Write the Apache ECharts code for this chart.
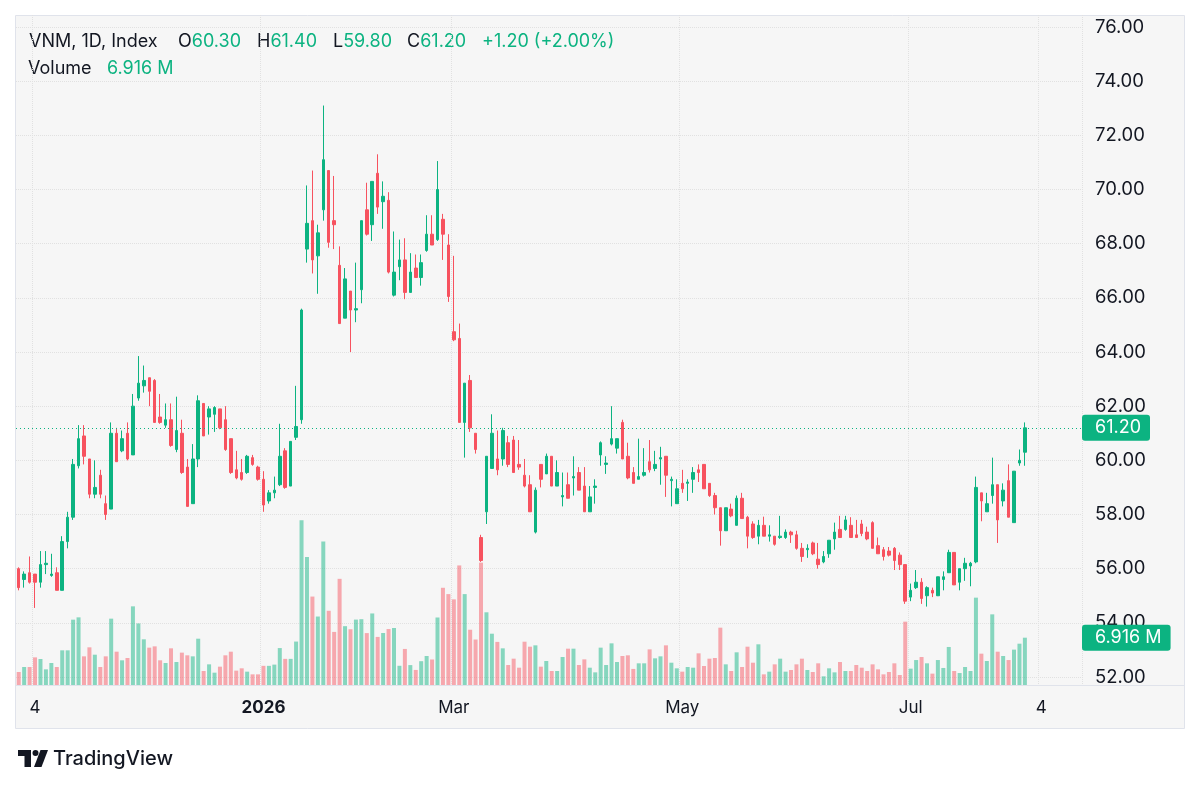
<!DOCTYPE html>
<html>
<head>
<meta charset="utf-8">
<title>VNM, 1D</title>
<script src="https://cdn.jsdelivr.net/npm/echarts@6.0.0/dist/echarts.min.js"></script>
<style>
    html, body { margin: 0; padding: 0; background: #fff; }
    #chart { width: 1200px; height: 786px; }
</style>
</head>
<body>
<div id="chart"></div>
<script>
// trading calendar: weekdays from the first bar, minus exchange holidays
var startDate = '2025-10-30';
var barCount = 196; // includes empty slots to the right of the last bar
var holidays = ['2026-01-01', '2026-02-13', '2026-02-16', '2026-02-17', '2026-02-18',
    '2026-02-19', '2026-02-20', '2026-04-27', '2026-04-30', '2026-05-01'];
var axisMarks = {
    '2025-11-04': '4', '2026-01-02': '2026', '2026-03-02': 'Mar',
    '2026-05-04': 'May', '2026-07-01': 'Jul', '2026-08-04': '4'
};
var priceTicks = { min: 52, max: 76, step: 2 };

var opens = [56.0, 55.6, 55.85, 55.8, 55.5, 56.15, 55.75, 55.85, 55.2, 57.0,
    57.9, 59.8, 60.9, 60.05, 58.75, 59.45, 58.4, 58.2, 61.0, 60.35,
    61.0, 60.2, 62.3, 62.75, 63.05, 62.95, 61.6, 61.3, 61.5, 60.4,
    61.0, 59.75, 58.4, 60.05, 62.1, 61.6, 61.7, 61.9, 61.5, 60.8,
    59.65, 59.55, 59.55, 60.1, 59.75, 59.3, 58.5, 58.8, 59.1, 60.35,
    59.05, 60.85, 61.5, 67.8, 68.85, 67.55, 69.25, 70.7, 68.85, 67.2,
    65.25, 66.25, 65.55, 66.3, 69.25, 68.7, 70.6, 69.55, 69.6, 66.1,
    67.15, 67.4, 66.2, 67.1, 66.75, 67.75, 68.35, 68.15, 68.9, 67.95,
    64.75, 64.5, 61.4, 62.95, 61.0, 57.15, 58.1, 59.7, 60.05, 60.05,
    60.65, 60.75, 59.85, 59.45, 59.1, 57.35, 59.85, 59.5, 60.15, 59.05,
    58.65, 59.1, 59.35, 59.55, 59.05, 58.1, 59.0, 60.2, 59.85, 60.6,
    60.45, 61.4, 60.15, 59.55, 59.3, 59.45, 59.95, 59.7, 60.05, 60.15,
    59.25, 58.4, 59.15, 59.15, 59.3, 59.65, 59.85, 59.15, 58.7, 58.25,
    57.4, 58.2, 57.6, 58.6, 57.9, 57.65, 57.2, 57.6, 57.2, 57.2,
    57.15, 57.15, 57.35, 57.25, 56.75, 56.7, 56.95, 56.35, 56.25, 56.55,
    57.1, 57.45, 57.45, 57.6, 57.25, 57.65, 57.35, 57.7, 56.85, 56.7,
    56.65, 56.75, 56.5, 56.15, 54.95, 55.3, 55.5, 55.0, 55.2, 55.0,
    55.6, 55.85, 56.6, 55.5, 56.0, 56.1, 56.25, 58.8, 58.1, 58.7,
    59.1, 58.5, 59.25, 57.7, 59.9, 60.3];
var highs = [56.05, 55.9, 56.45, 55.8, 56.65, 56.65, 56.55, 56.05, 57.2, 58.1,
    60.05, 61.3, 61.3, 60.05, 60.0, 59.65, 58.7, 61.4, 61.2, 61.1,
    61.4, 62.45, 63.85, 63.5, 63.05, 63.0, 62.45, 62.1, 62.1, 62.35,
    61.5, 60.05, 60.6, 62.4, 62.1, 62.0, 62.0, 61.9, 62.0, 60.8,
    60.35, 60.05, 60.2, 60.2, 59.8, 59.6, 58.9, 59.4, 61.35, 60.45,
    60.7, 62.75, 65.6, 70.15, 70.7, 68.7, 73.1, 70.7, 70.5, 67.9,
    67.1, 66.25, 67.3, 68.85, 70.25, 70.3, 71.3, 70.3, 69.9, 68.45,
    68.15, 68.2, 67.65, 67.6, 67.6, 69.05, 69.05, 71.05, 69.1, 68.35,
    67.55, 65.05, 62.85, 63.15, 61.0, 57.25, 60.15, 61.7, 61.1, 61.2,
    60.9, 60.9, 60.75, 60.05, 59.45, 59.0, 59.85, 60.25, 60.15, 60.0,
    59.55, 59.55, 60.15, 59.75, 59.75, 59.05, 59.3, 60.7, 60.15, 62.0,
    60.8, 61.5, 60.65, 59.75, 60.8, 60.45, 60.75, 60.35, 60.5, 60.15,
    59.4, 59.3, 59.65, 59.3, 59.75, 59.85, 59.85, 59.15, 58.8, 58.25,
    58.25, 58.4, 58.7, 58.8, 57.95, 57.75, 57.8, 57.92, 57.6, 57.2,
    57.95, 57.45, 57.4, 57.4, 56.95, 56.9, 57.0, 56.95, 56.65, 57.05,
    57.7, 57.95, 57.95, 57.9, 57.8, 57.8, 57.55, 57.75, 57.15, 56.8,
    56.8, 56.8, 56.6, 56.15, 55.45, 55.95, 55.65, 55.35, 55.3, 55.7,
    55.9, 56.7, 56.6, 56.0, 56.4, 56.25, 59.4, 58.8, 58.8, 60.1,
    59.1, 59.15, 59.85, 59.6, 60.4, 61.4];
var lows = [55.2, 55.3, 55.45, 54.55, 55.3, 55.8, 55.7, 55.2, 55.2, 56.75,
    57.8, 59.7, 59.85, 58.6, 58.6, 58.6, 57.8, 58.2, 59.95, 60.3,
    60.0, 60.2, 62.2, 62.5, 62.0, 61.4, 61.35, 61.2, 60.5, 60.3,
    59.5, 58.3, 58.4, 59.75, 60.9, 60.95, 61.05, 61.15, 60.35, 59.5,
    59.3, 59.25, 59.5, 59.8, 59.25, 58.1, 58.4, 58.6, 59.05, 58.95,
    59.05, 60.75, 61.35, 67.3, 66.9, 66.15, 68.85, 67.85, 67.8, 65.05,
    65.25, 64.0, 65.1, 65.8, 68.3, 68.1, 69.1, 68.55, 66.9, 66.05,
    66.65, 65.95, 66.2, 66.75, 66.45, 67.7, 67.95, 68.1, 67.4, 65.85,
    64.4, 61.4, 60.1, 61.05, 60.25, 56.25, 57.65, 59.7, 59.45, 59.8,
    59.75, 59.55, 59.65, 59.0, 58.1, 57.3, 59.0, 59.5, 59.05, 59.05,
    58.3, 58.6, 58.7, 58.9, 58.1, 58.1, 58.4, 59.8, 59.5, 60.55,
    60.25, 60.05, 59.3, 59.15, 59.3, 59.4, 59.55, 59.6, 59.1, 58.65,
    58.3, 58.4, 58.8, 58.5, 58.8, 59.2, 58.95, 58.65, 58.0, 56.85,
    57.4, 57.9, 57.6, 57.85, 56.75, 57.1, 56.9, 57.2, 57.0, 56.85,
    57.1, 57.1, 56.95, 56.7, 56.25, 56.4, 56.5, 56.0, 56.2, 56.4,
    56.7, 57.15, 57.4, 57.15, 57.15, 57.2, 57.05, 56.75, 56.55, 56.3,
    56.45, 55.95, 55.95, 54.7, 54.8, 55.25, 54.7, 54.6, 54.95, 54.99,
    55.2, 55.85, 55.4, 55.2, 55.55, 55.35, 56.2, 57.75, 58.1, 58.4,
    56.95, 58.3, 57.9, 57.7, 59.8, 59.8];
var closes = [55.3, 55.8, 55.5, 55.5, 56.15, 56.2, 55.8, 55.2, 57.0, 57.9,
    59.85, 60.8, 60.15, 58.75, 59.0, 58.75, 58.0, 61.0, 59.95, 60.8,
    60.05, 62.0, 62.85, 62.95, 62.55, 61.4, 61.4, 61.5, 60.55, 61.1,
    59.55, 58.3, 60.05, 62.2, 60.9, 61.9, 61.95, 61.2, 60.4, 59.55,
    59.35, 59.3, 60.15, 59.85, 59.3, 58.35, 58.8, 58.9, 60.15, 59.0,
    60.7, 61.25, 65.55, 68.75, 67.4, 68.4, 71.1, 68.05, 68.7, 65.05,
    66.7, 65.55, 65.6, 68.85, 68.35, 70.3, 69.35, 69.75, 66.95, 66.95,
    67.4, 66.2, 66.95, 66.75, 67.3, 68.35, 67.95, 70.0, 68.35, 66.05,
    64.45, 61.4, 62.85, 61.2, 60.4, 56.3, 60.15, 61.0, 59.65, 61.1,
    59.85, 59.55, 59.75, 59.05, 58.1, 58.9, 59.3, 60.15, 59.05, 59.55,
    58.7, 58.6, 59.4, 58.9, 58.1, 58.65, 59.05, 60.65, 59.9, 60.8,
    60.8, 60.05, 59.35, 59.15, 59.4, 59.55, 59.65, 59.85, 60.1, 59.45,
    59.3, 58.95, 58.95, 59.2, 59.55, 59.55, 58.95, 58.7, 58.25, 57.4,
    58.25, 57.95, 58.6, 57.85, 57.2, 57.15, 57.6, 57.2, 57.25, 56.9,
    57.2, 57.35, 57.25, 56.75, 56.45, 56.75, 56.55, 56.15, 56.45, 57.05,
    57.35, 57.15, 57.8, 57.15, 57.15, 57.3, 57.1, 56.75, 56.55, 56.45,
    56.5, 56.3, 56.15, 54.8, 55.2, 55.5, 54.9, 55.3, 55.1, 55.7,
    55.7, 56.6, 55.4, 56.0, 56.2, 56.2, 59.0, 58.5, 58.4, 59.1,
    57.8, 58.9, 57.9, 59.6, 60.0, 61.2];
// volume in millions
var volumes = [1.90, 2.63, 2.63, 4.04, 3.80, 2.29, 3.22, 2.63, 5.07, 5.07,
    9.55, 9.89, 4.19, 5.51, 4.43, 2.63, 4.19, 9.70, 4.87, 3.61,
    3.95, 11.5, 9.0, 6.68, 5.46, 5.65, 3.61, 3.22, 5.36, 3.36,
    4.73, 4.34, 4.19, 6.77, 2.05, 3.02, 1.80, 2.68, 4.34, 4.87,
    2.10, 2.44, 1.95, 1.56, 1.56, 2.8, 2.8, 2.98, 5.40, 3.82,
    3.82, 6.35, 24.07, 18.72, 12.93, 10.01, 20.97, 10.85, 7.76, 15.52,
    8.60, 8.15, 9.56, 9.62, 7.59, 10.46, 7.03, 7.6, 8.18, 8.33,
    2.81, 5.27, 2.91, 2.20, 3.48, 4.24, 3.73, 9.87, 14.21, 13.29,
    12.52, 17.48, 13.29, 8.08, 6.65, 17.89, 10.63, 7.5, 6.3, 5.36,
    2.92, 3.85, 2.53, 6.33, 5.60, 5.80, 2.68, 3.51, 2.05, 2.05,
    4.09, 5.31, 5.31, 2.92, 3.75, 2.53, 1.85, 5.46, 2.92, 6.09,
    3.36, 4.24, 4.34, 2.35, 3.17, 3.17, 5.21, 3.90, 4.19, 5.80,
    3.26, 2.44, 1.95, 2.63, 2.53, 4.63, 2.78, 3.85, 3.95, 8.38,
    3.02, 2.05, 4.78, 2.63, 5.60, 3.26, 5.95, 1.56, 1.95, 3.02,
    3.85, 1.95, 2.19, 3.02, 3.85, 2.19, 1.90, 3.17, 1.27, 2.44,
    1.85, 3.36, 2.05, 2.05, 2.92, 2.53, 2.05, 3.02, 2.29, 1.56,
    1.90, 3.17, 1.46, 9.26, 2.39, 3.65, 4.09, 3.17, 1.66, 3.65,
    2.49, 5.56, 2.05, 1.75, 2.63, 2.05, 12.77, 4.58, 3.51, 10.33,
    4.87, 4.24, 3.65, 5.17, 6.04, 6.916];

var UP = '#0cb381';
var DOWN = '#f7525f';
var UP_VOL = 'rgba(12,179,129,0.48)';
var DOWN_VOL = 'rgba(247,82,95,0.48)';
var TEXT = '#131722';
var GRID_LINE = '#e1e1e1';
var FONT = 'Inter, Roboto, "Noto Sans", sans-serif';
var HEAD_FONT = '18px ' + FONT;

function tradingDays(start, count, skip) {
    var out = [];
    var d = new Date(start + 'T00:00:00Z');
    while (out.length < count) {
        var wd = d.getUTCDay();
        var key = d.toISOString().slice(0, 10);
        if (wd !== 0 && wd !== 6 && skip.indexOf(key) < 0) {
            out.push(key);
        }
        d.setUTCDate(d.getUTCDate() + 1);
    }
    return out;
}

var dates = tradingDays(startDate, barCount, holidays);
var candles = [];
var volBars = [];
for (var i = 0; i < closes.length; i++) {
    candles.push([opens[i], closes[i], lows[i], highs[i]]);
    volBars.push({
        value: volumes[i],
        itemStyle: { color: closes[i] >= opens[i] ? UP_VOL : DOWN_VOL }
    });
}
var last = closes.length - 1;
var change = closes[last] - closes[last - 1];

function isMark(index, value) {
    return !!axisMarks[value];
}

// green tag drawn on the price scale
function tag(text) {
    return {
        show: true,
        position: 'end',
        distance: 0,
        formatter: text,
        color: '#fff',
        opacity: 1,
        fontSize: 18,
        fontFamily: FONT,
        backgroundColor: UP,
        borderRadius: 3,
        padding: [5, 9, 3, 13]
    };
}

var chart = echarts.init(document.getElementById('chart'));
var option = {
    animation: false,
    backgroundColor: '#ffffff',
    textStyle: { fontFamily: FONT },
    grid: [
        { left: 16, right: 118, top: 27, bottom: 109 },
        { left: 16, right: 118, top: 15, bottom: 101 }
    ],
    xAxis: [
        { type: 'category', gridIndex: 0, data: dates, show: false, boundaryGap: true },
        {
            type: 'category', gridIndex: 1, data: dates, boundaryGap: true,
            axisLine: { show: false },
            axisTick: { show: false },
            axisLabel: {
                interval: isMark,
                margin: 14,
                color: TEXT,
                fontSize: 17,
                fontFamily: FONT,
                formatter: function(v) {
                    var t = axisMarks[v] || '';
                    return t === '2026' ? '{b|2026}' : t;
                },
                rich: { b: { fontWeight: 'bold', fontSize: 17, color: TEXT, fontFamily: FONT } }
            },
            splitLine: {
                show: true,
                interval: isMark,
                lineStyle: { color: GRID_LINE, type: 'dotted' }
            }
        }
    ],
    yAxis: [
        {
            type: 'value', gridIndex: 0, position: 'right',
            min: priceTicks.min, max: priceTicks.max, interval: priceTicks.step,
            axisLine: { show: false },
            axisTick: { show: false },
            axisLabel: {
                margin: 13,
                color: TEXT,
                fontSize: 18.5,
                fontFamily: FONT,
                formatter: function(v) { return v.toFixed(2); }
            },
            splitLine: { lineStyle: { color: GRID_LINE, type: 'dotted' } }
        },
        {
            type: 'value', gridIndex: 1, min: 0, max: 97.95, show: false,
            splitLine: { show: false }
        }
    ],
    series: [
        {
            name: 'Volume',
            type: 'bar',
            xAxisIndex: 1,
            yAxisIndex: 1,
            barWidth: 4,
            z: 2,
            data: volBars,
            markLine: {
                silent: true,
                symbol: 'none',
                data: [{ yAxis: volumes[last] }],
                lineStyle: { color: 'rgba(0,0,0,0)', width: 1 },
                label: tag(volumes[last].toFixed(3) + ' M')
            }
        },
        {
            name: 'VNM',
            type: 'candlestick',
            xAxisIndex: 0,
            yAxisIndex: 0,
            barWidth: 3,
            z: 3,
            data: candles,
            itemStyle: {
                color: UP,
                color0: DOWN,
                borderColor: UP,
                borderColor0: DOWN,
                borderWidth: 1
            },
            markLine: {
                silent: true,
                symbol: 'none',
                data: [{ yAxis: closes[last] }],
                lineStyle: { color: UP, type: [1, 3], width: 1 },
                label: tag(closes[last].toFixed(2))
            }
        }
    ],
    graphic: [
        {
            type: 'rect', z: -1, silent: true,
            shape: { x: 15.5, y: 15.5, width: 1169, height: 713 },
            style: { fill: '#f6f6f6', stroke: '#e0e3eb', lineWidth: 1 }
        },
        {
            type: 'line', z: -1, silent: true,
            shape: { x1: 15.5, y1: 685.5, x2: 1184.5, y2: 685.5 },
            style: { stroke: '#e0e3eb', lineWidth: 1 }
        },
        // legend header
        {
            type: 'text', x: 29, y: 42, silent: true,
            style: { text: 'VNM, 1D, Index', fill: TEXT, font: HEAD_FONT, verticalAlign: 'middle' }
        },
        {
            type: 'text', x: 178, y: 42, silent: true,
            style: {
                text: '{k|O}{v|' + opens[last].toFixed(2) + '}',
                verticalAlign: 'middle',
                rich: { k: { fill: TEXT, font: HEAD_FONT }, v: { fill: UP, font: HEAD_FONT } }
            }
        },
        {
            type: 'text', x: 257, y: 42, silent: true,
            style: {
                text: '{k|H}{v|' + highs[last].toFixed(2) + '}',
                verticalAlign: 'middle',
                rich: { k: { fill: TEXT, font: HEAD_FONT }, v: { fill: UP, font: HEAD_FONT } }
            }
        },
        {
            type: 'text', x: 333, y: 42, silent: true,
            style: {
                text: '{k|L}{v|' + lows[last].toFixed(2) + '}',
                verticalAlign: 'middle',
                rich: { k: { fill: TEXT, font: HEAD_FONT }, v: { fill: UP, font: HEAD_FONT } }
            }
        },
        {
            type: 'text', x: 407, y: 42, silent: true,
            style: {
                text: '{k|C}{v|' + closes[last].toFixed(2) + '}',
                verticalAlign: 'middle',
                rich: { k: { fill: TEXT, font: HEAD_FONT }, v: { fill: UP, font: HEAD_FONT } }
            }
        },
        {
            type: 'text', x: 482, y: 42, silent: true,
            style: {
                text: '+' + change.toFixed(2) + ' (+' + (change / closes[last - 1] * 100).toFixed(2) + '%)',
                fill: UP, font: HEAD_FONT, verticalAlign: 'middle'
            }
        },
        {
            type: 'text', x: 28, y: 69, silent: true,
            style: { text: 'Volume', fill: TEXT, font: HEAD_FONT, verticalAlign: 'middle' }
        },
        {
            type: 'text', x: 107, y: 69, silent: true,
            style: { text: volumes[last].toFixed(3) + ' M', fill: UP, font: HEAD_FONT, verticalAlign: 'middle' }
        },
        // TradingView mark
        {
            type: 'polygon', silent: true,
            shape: { points: [[18, 750], [31, 750], [31, 767], [24.5, 767], [24.5, 756], [18, 756]] },
            style: { fill: TEXT }
        },
        {
            type: 'circle', silent: true,
            shape: { cx: 35.5, cy: 753, r: 3 },
            style: { fill: TEXT }
        },
        {
            type: 'polygon', silent: true,
            shape: { points: [[40.5, 750], [48, 750], [41.5, 767], [34, 767]] },
            style: { fill: TEXT }
        },
        {
            type: 'text', x: 53, y: 759, silent: true,
            style: { text: 'TradingView', fill: TEXT, font: '500 20px ' + FONT, verticalAlign: 'middle' }
        }
    ]
};
chart.setOption(option);
</script>
</body>
</html>
